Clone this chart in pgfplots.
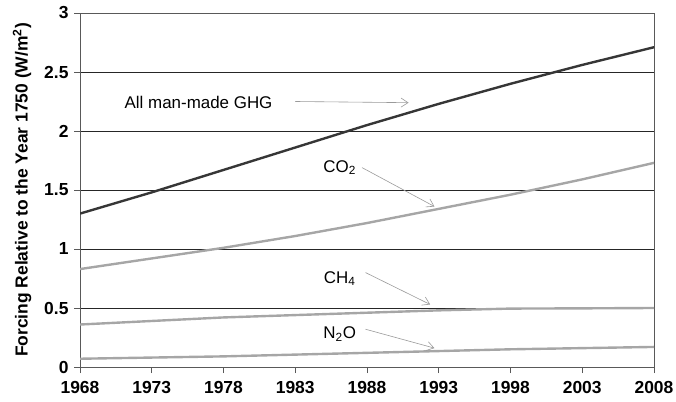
\documentclass[border=0pt]{standalone}
\usepackage{pgfplots}
\pgfplotsset{compat=1.18}
\usepackage{fontspec}
\setmainfont{Liberation Sans}
\usetikzlibrary{arrows.meta}
\definecolor{ghg}{HTML}{363636}
\definecolor{lg}{HTML}{A6A6A6}
\definecolor{arr}{HTML}{9A9A9A}
\begin{document}
\begin{tikzpicture}
\path[use as bounding box] (-80bp,-35bp) rectangle (596bp,367bp);
\begin{axis}[
  at={(0,0)}, anchor=south west,
  scale only axis, width=574bp, height=354bp,
  xmin=1968, xmax=2008, ymin=0, ymax=3,
  xtick={1968,1973,...,2008}, ytick={0,0.5,...,3},
  xtick pos=bottom, ytick pos=left,
  xticklabel style={/pgf/number format/1000 sep={}, font=\fontsize{17.5}{20}\selectfont\bfseries, yshift=-5bp},
  yticklabel style={/pgf/number format/fixed, font=\fontsize{17.5}{20}\selectfont\bfseries, xshift=-2bp},
  /pgf/number format/assume math mode=true,
  tick align=outside, major tick length=6bp,
  tick style={gray!70!black, line width=0.6pt},
  axis line style={gray!70!black, line width=0.6pt},
  ymajorgrids, grid style={black!85, line width=0.6pt},
  ylabel={Forcing Relative to the Year 1750 (W/m\textsuperscript{2})},
  ylabel style={font=\fontsize{17.5}{20}\selectfont\bfseries, at={(axis description cs:-0.101,0.5)}, anchor=center},
]
\addplot[lg, line width=2.4pt] coordinates {(1968,0.07) (1978,0.09) (1988,0.12) (1998,0.15) (2008,0.17)};
\addplot[lg, line width=2.4pt] coordinates {(1968,0.36) (1973,0.39) (1978,0.42) (1983,0.44) (1988,0.46) (1993,0.48) (1998,0.495) (2003,0.497) (2008,0.50)};
\addplot[lg, line width=2.4pt] coordinates {(1968,0.83) (1973,0.92) (1978,1.01) (1983,1.11) (1988,1.22) (1993,1.34) (1998,1.46) (2003,1.59) (2008,1.73)};
\addplot[ghg, line width=2.4pt] coordinates {(1968,1.30) (1973,1.48) (1978,1.67) (1983,1.86) (1988,2.05) (1993,2.23) (1998,2.40) (2003,2.56) (2008,2.71)};
\node[anchor=west, font=\fontsize{17}{20}\selectfont, inner sep=0pt] at (axis cs:1971.1,2.24) {All man-made GHG};
\draw[arr, line width=0.6pt, -{Straight Barb[length=7bp,width=9bp]}] (axis cs:1983.0,2.25) -- (axis cs:1990.9,2.24);
\node[font=\fontsize{17}{20}\selectfont] at (axis cs:1986.1,1.69) {CO\textsubscript{2}};
\draw[arr, line width=0.6pt, -{Straight Barb[length=7bp,width=9bp]}] (axis cs:1987.65,1.69) -- (axis cs:1992.7,1.36);
\node[font=\fontsize{17}{20}\selectfont] at (axis cs:1986.1,0.75) {CH\textsubscript{4}};
\draw[arr, line width=0.6pt, -{Straight Barb[length=7bp,width=9bp]}] (axis cs:1987.9,0.80) -- (axis cs:1992.4,0.53);
\node[font=\fontsize{17}{20}\selectfont] at (axis cs:1986.1,0.28) {N\textsubscript{2}O};
\draw[arr, line width=0.6pt, -{Straight Barb[length=7bp,width=9bp]}] (axis cs:1987.9,0.32) -- (axis cs:1992.7,0.16);
\end{axis}
\end{tikzpicture}
\end{document}
